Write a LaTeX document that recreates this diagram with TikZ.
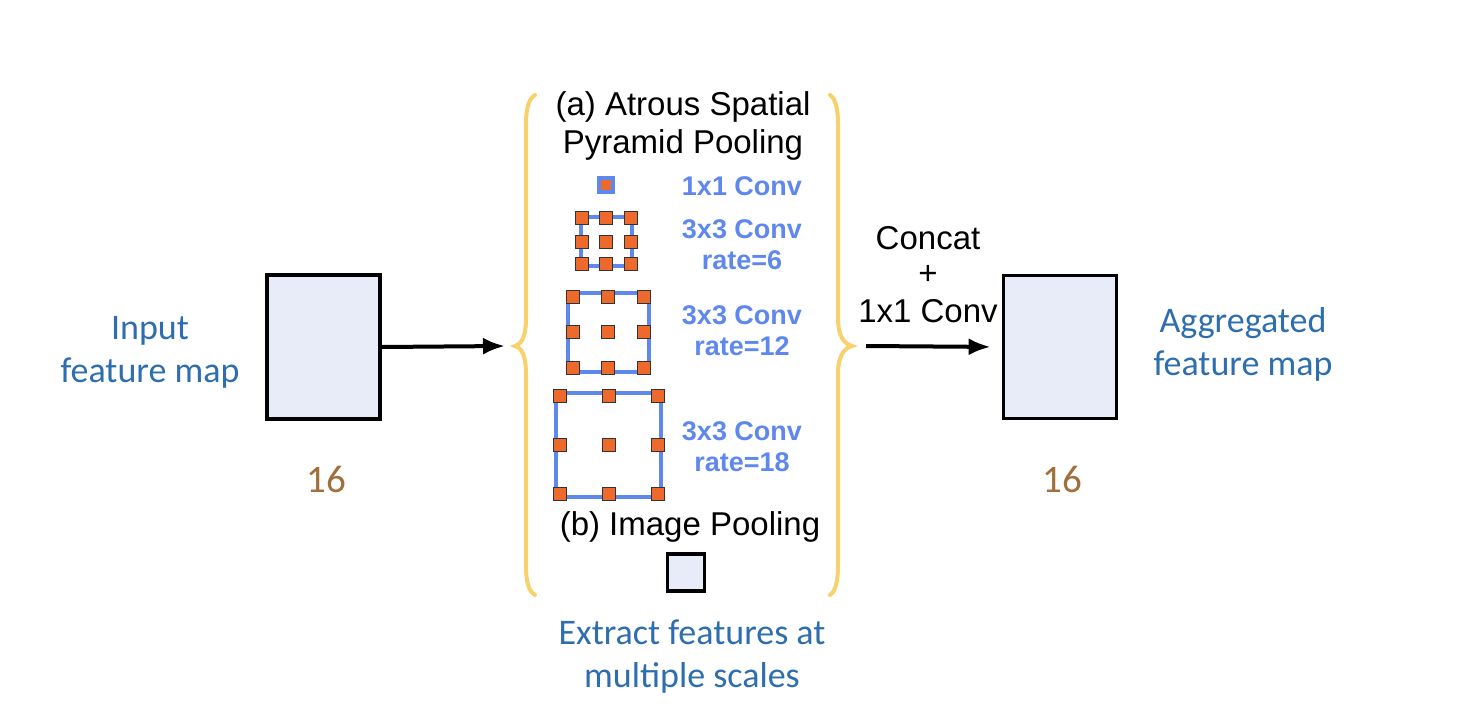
\documentclass[tikz,border=0pt]{standalone}
\usepackage{fontspec}
\setmainfont{Liberation Sans}
\newfontfamily\calfont{Carlito}
\usetikzlibrary{arrows.meta}
\definecolor{mapfill}{HTML}{E8ECF9}
\definecolor{capblue}{HTML}{2F6EAE}
\definecolor{convblue}{HTML}{5F88EE}
\definecolor{kernor}{HTML}{EE6A2C}
\definecolor{sizebrown}{HTML}{A0703A}
\definecolor{braceyel}{HTML}{F8D16C}
\tikzset{
  fmap/.style={draw=black, line width=3.8pt, fill=mapfill, inner sep=0pt},
  caption/.style={font=\calfont\fontsize{36}{43}\selectfont, text=capblue, align=center, inner sep=0pt},
  sizelbl/.style={font=\calfont\fontsize{39}{40}\selectfont, text=sizebrown, inner sep=0pt},
  blacktxt/.style={font=\fontsize{33}{38}\selectfont, align=center, inner sep=0pt},
  convtxt/.style={font=\bfseries\fontsize{27}{31}\selectfont, text=convblue, align=center, inner sep=0pt},
  kframe/.style={draw=convblue, line width=3.6pt},
  kern/.style={draw=black!80, line width=0.9pt, fill=kernor, minimum size=13pt, inner sep=0pt},
  brc/.style={draw=braceyel, line width=4pt, line cap=round},
  arr/.style={line width=4pt, -{Latex[length=22pt,width=17pt]}}
}
\begin{document}
\begin{tikzpicture}[x=1pt,y=-1pt]
\useasboundingbox (0,0) rectangle (1462,728);

% input
\node[caption] (inlbl) at (150,352) {Input\\feature map};
\node[fmap, minimum width=113pt, minimum height=144pt] (inbox) at (323.5,347) {};
\node[sizelbl] (insize) at (326,479) {16};

% braces
\coordinate (lbtip) at (515,346);
\coordinate (rbtip) at (852,346);
\draw[brc] (535,95) .. controls (528,99) and (526,110) .. (526,125) -- (526,318)
  .. controls (526,336) and (522,344) .. (lbtip)
  .. controls (522,348) and (526,356) .. (526,374) -- (526,565)
  .. controls (526,580) and (528,591) .. (535,595);
\draw[brc] (830,95) .. controls (836,99) and (838,110) .. (838,125) -- (838,318)
  .. controls (838,336) and (844,344) .. (rbtip)
  .. controls (844,348) and (838,356) .. (838,374) -- (838,565)
  .. controls (838,580) and (836,591) .. (830,595);

\draw[arr] (inbox.east) -- ([xshift=-10pt]lbtip);

% ASPP title
\node[blacktxt] (aspp) at (683,126) {(a) Atrous Spatial\\Pyramid Pooling};

% 1x1 conv
\node[draw=convblue, line width=3.6pt, fill=kernor, minimum size=14pt, inner sep=0pt] (k1) at (606,185) {};
\node[convtxt] (t1) at (742,186) {1x1 Conv};

% rate 6
\draw[kframe] (581,217) rectangle (632,266);
\foreach \i/\x in {1/582,2/606,3/631}
  \foreach \j/\y in {1/218,2/242,3/264}
    \node[kern] (ka-\i-\j) at (\x,\y) {};
\node[convtxt] (t6) at (742,245) {3x3 Conv\\rate=6};

% rate 12
\draw[kframe] (568,293) rectangle (649,372);
\foreach \i/\x in {1/573,2/608,3/644}
  \foreach \j/\y in {1/297,2/332,3/368}
    \node[kern] (kb-\i-\j) at (\x,\y) {};
\node[convtxt] (t12) at (742,331) {3x3 Conv\\rate=12};

% rate 18
\draw[kframe] (556,393) rectangle (661,497);
\foreach \i/\x in {1/560,2/609,3/658}
  \foreach \j/\y in {1/396,2/445,3/494}
    \node[kern] (kc-\i-\j) at (\x,\y) {};
\node[convtxt] (t18) at (742,447) {3x3 Conv\\rate=18};

% image pooling
\node[blacktxt] (ipool) at (690,527) {(b) Image Pooling};
\node[fmap, minimum size=37pt] (ipbox) at (686,572.5) {};

\node[caption] (extract) at (692,657) {Extract features at\\multiple scales};

% concat
\node[blacktxt] (concat) at (928,275) {Concat\\[-3pt]+\\[0pt]1x1 Conv};

% output
\node[fmap, minimum width=113pt, minimum height=143pt] (outbox) at (1060,347) {};
\draw[arr, shorten >=11pt] ([xshift=14pt]rbtip) -- (outbox.west);
\node[sizelbl] (outsize) at (1062,479) {16};
\node[caption] (outlbl) at (1243,344) {Aggregated\\feature map};
\end{tikzpicture}
\end{document}
